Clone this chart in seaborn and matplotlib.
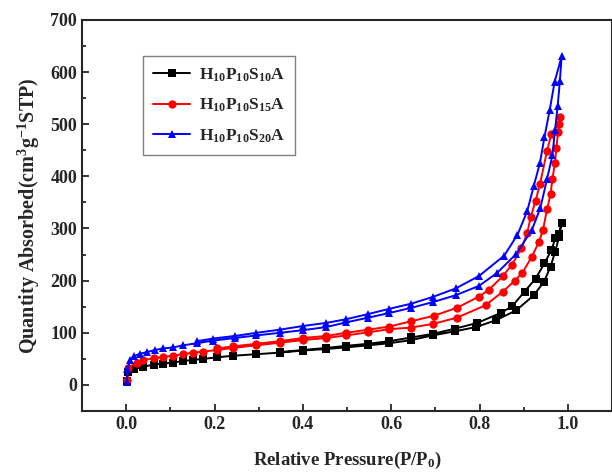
import pandas as pd
import seaborn as sns
import matplotlib.pyplot as plt
from matplotlib.ticker import MultipleLocator

# adsorption / desorption branches
s10_ads_p = [0.001, 0.005, 0.017, 0.039, 0.062, 0.084, 0.107, 0.129, 0.152, 0.175, 0.205, 0.242,
             0.295, 0.348, 0.400, 0.453, 0.498, 0.548, 0.596, 0.645, 0.694, 0.745, 0.792, 0.837,
             0.883, 0.923, 0.946, 0.961, 0.971, 0.980, 0.986]
s10_ads_v = [8, 24, 30, 35, 39, 41, 43, 46, 48, 50, 53, 56, 59, 62, 66, 69, 72, 76, 80, 86, 95,
             103, 111, 124, 143, 172, 198, 227, 255, 283, 311]
s10_des_p = [0.980, 0.972, 0.963, 0.947, 0.927, 0.902, 0.874, 0.848, 0.795, 0.745, 0.694, 0.645,
             0.596, 0.548, 0.498, 0.453, 0.400, 0.348]
s10_des_v = [290, 282, 259, 233, 204, 179, 151, 138, 119, 108, 98, 91, 84, 79, 75, 71, 67, 63]

s15_ads_p = [0.001, 0.005, 0.024, 0.039, 0.062, 0.084, 0.107, 0.129, 0.152, 0.175, 0.205, 0.242,
             0.295, 0.348, 0.400, 0.453, 0.498, 0.548, 0.596, 0.645, 0.694, 0.749, 0.814, 0.853,
             0.880, 0.897, 0.918, 0.935, 0.944, 0.953, 0.961, 0.965, 0.971, 0.974, 0.978, 0.983]
s15_ads_v = [10, 33, 43, 48, 51, 54, 56, 59, 62, 64, 67, 71, 76, 81, 86, 90, 95, 101, 107, 110,
             117, 129, 153, 179, 200, 215, 245, 275, 298, 337, 366, 395, 426, 455, 485, 514]
s15_des_p = [0.979, 0.963, 0.953, 0.937, 0.927, 0.916, 0.908, 0.895, 0.873, 0.853, 0.822, 0.798,
             0.749, 0.698, 0.645, 0.596, 0.548, 0.498, 0.453, 0.400, 0.348, 0.295, 0.242, 0.205]
s15_des_v = [500, 482, 449, 385, 353, 322, 291, 262, 230, 209, 183, 169, 148, 133, 122, 112, 106,
             100, 94, 90, 84, 79, 74, 70]

s20_ads_p = [0.001, 0.003, 0.009, 0.017, 0.032, 0.047, 0.065, 0.084, 0.107, 0.129, 0.160, 0.197,
             0.246, 0.295, 0.348, 0.400, 0.453, 0.498, 0.548, 0.596, 0.646, 0.695, 0.746, 0.799,
             0.840, 0.883, 0.919, 0.938, 0.953, 0.965, 0.971, 0.977, 0.982, 0.986]
s20_ads_v = [5, 30, 48, 55, 60, 63, 67, 70, 72, 76, 80, 85, 90, 95, 100, 105, 111, 120, 129, 138,
             148, 159, 172, 190, 215, 251, 298, 340, 395, 440, 488, 535, 583, 630]
s20_des_p = [0.970, 0.959, 0.947, 0.937, 0.923, 0.908, 0.886, 0.856, 0.799, 0.746, 0.695, 0.646,
             0.596, 0.548, 0.498, 0.453, 0.400, 0.348, 0.295, 0.246, 0.197, 0.160]
s20_des_v = [581, 527, 475, 426, 382, 333, 288, 248, 209, 185, 169, 156, 146, 136, 126, 119, 113,
             106, 100, 94, 89, 84]

labels = [r'H$_{10}$P$_{10}$S$_{10}$A', r'H$_{10}$P$_{10}$S$_{15}$A', r'H$_{10}$P$_{10}$S$_{20}$A']
colors = ['#000000', '#ff0000', '#0000ff']

rows = []
branches = [(s10_ads_p + s10_des_p, s10_ads_v + s10_des_v),
            (s15_ads_p + s15_des_p, s15_ads_v + s15_des_v),
            (s20_ads_p + s20_des_p, s20_ads_v + s20_des_v)]
for lab, (pp, vv) in zip(labels, branches):
    for i, (p, v) in enumerate(zip(pp, vv)):
        rows.append({'P': p, 'V': v, 'sample': lab, 'idx': i})
df = pd.DataFrame(rows)

sns.set_style('ticks')
plt.rcParams['font.family'] = ['Liberation Serif', 'DejaVu Serif']
plt.rcParams['font.weight'] = 'bold'
plt.rcParams['mathtext.fontset'] = 'custom'
plt.rcParams['mathtext.rm'] = 'Liberation Serif:bold'
plt.rcParams['mathtext.it'] = 'Liberation Serif:bold'
plt.rcParams['mathtext.bf'] = 'Liberation Serif:bold'

fig = plt.figure(figsize=(6.12, 4.73), dpi=100)
ax = fig.add_axes([0.134, 0.131, 0.866, 0.827])

sns.lineplot(data=df, x='P', y='V', hue='sample', style='sample', sort=False, estimator=None,
             units='sample', palette=colors, markers=['s', 'o', '^'], dashes=False,
             markersize=6, markeredgewidth=0, linewidth=1.4, ax=ax)

ax.set_xlim(-0.1, 1.1)
ax.set_ylim(-50, 700)
ax.xaxis.set_minor_locator(MultipleLocator(0.1))
ax.yaxis.set_minor_locator(MultipleLocator(50))
ax.set_xticks([0.0, 0.2, 0.4, 0.6, 0.8, 1.0])
ax.set_xticklabels(['0.0', '0.2', '0.4', '0.6', '0.8', '1.0'])
ax.set_yticks(range(0, 701, 100))
ax.tick_params(which='both', direction='in', width=1.3, labelsize=13)
ax.tick_params(which='major', length=5)
ax.tick_params(which='minor', length=3)
for sp in ax.spines.values():
    sp.set_linewidth(1.5)
    sp.set_visible(True)
for t in ax.get_xticklabels() + ax.get_yticklabels():
    t.set_fontweight('bold')

ax.set_xlabel(r'Relative Pressure(P/P$_0$)', fontsize=13.5, fontweight='bold', labelpad=12)
ax.set_ylabel(r'Quantity Absorbed(cm$^3$g$^{-1}$STP)', fontsize=14.5, fontweight='bold', labelpad=6)

leg = ax.legend(loc='upper left', bbox_to_anchor=(0.115, 0.908), borderaxespad=0, fancybox=False,
                framealpha=1, edgecolor='#808080', handlelength=2.1, borderpad=0.6,
                labelspacing=0.75, handletextpad=0.5, prop={'weight': 'bold', 'size': 12.5})
leg.get_frame().set_linewidth(1.0)

fig.savefig('out.png', dpi=100)
